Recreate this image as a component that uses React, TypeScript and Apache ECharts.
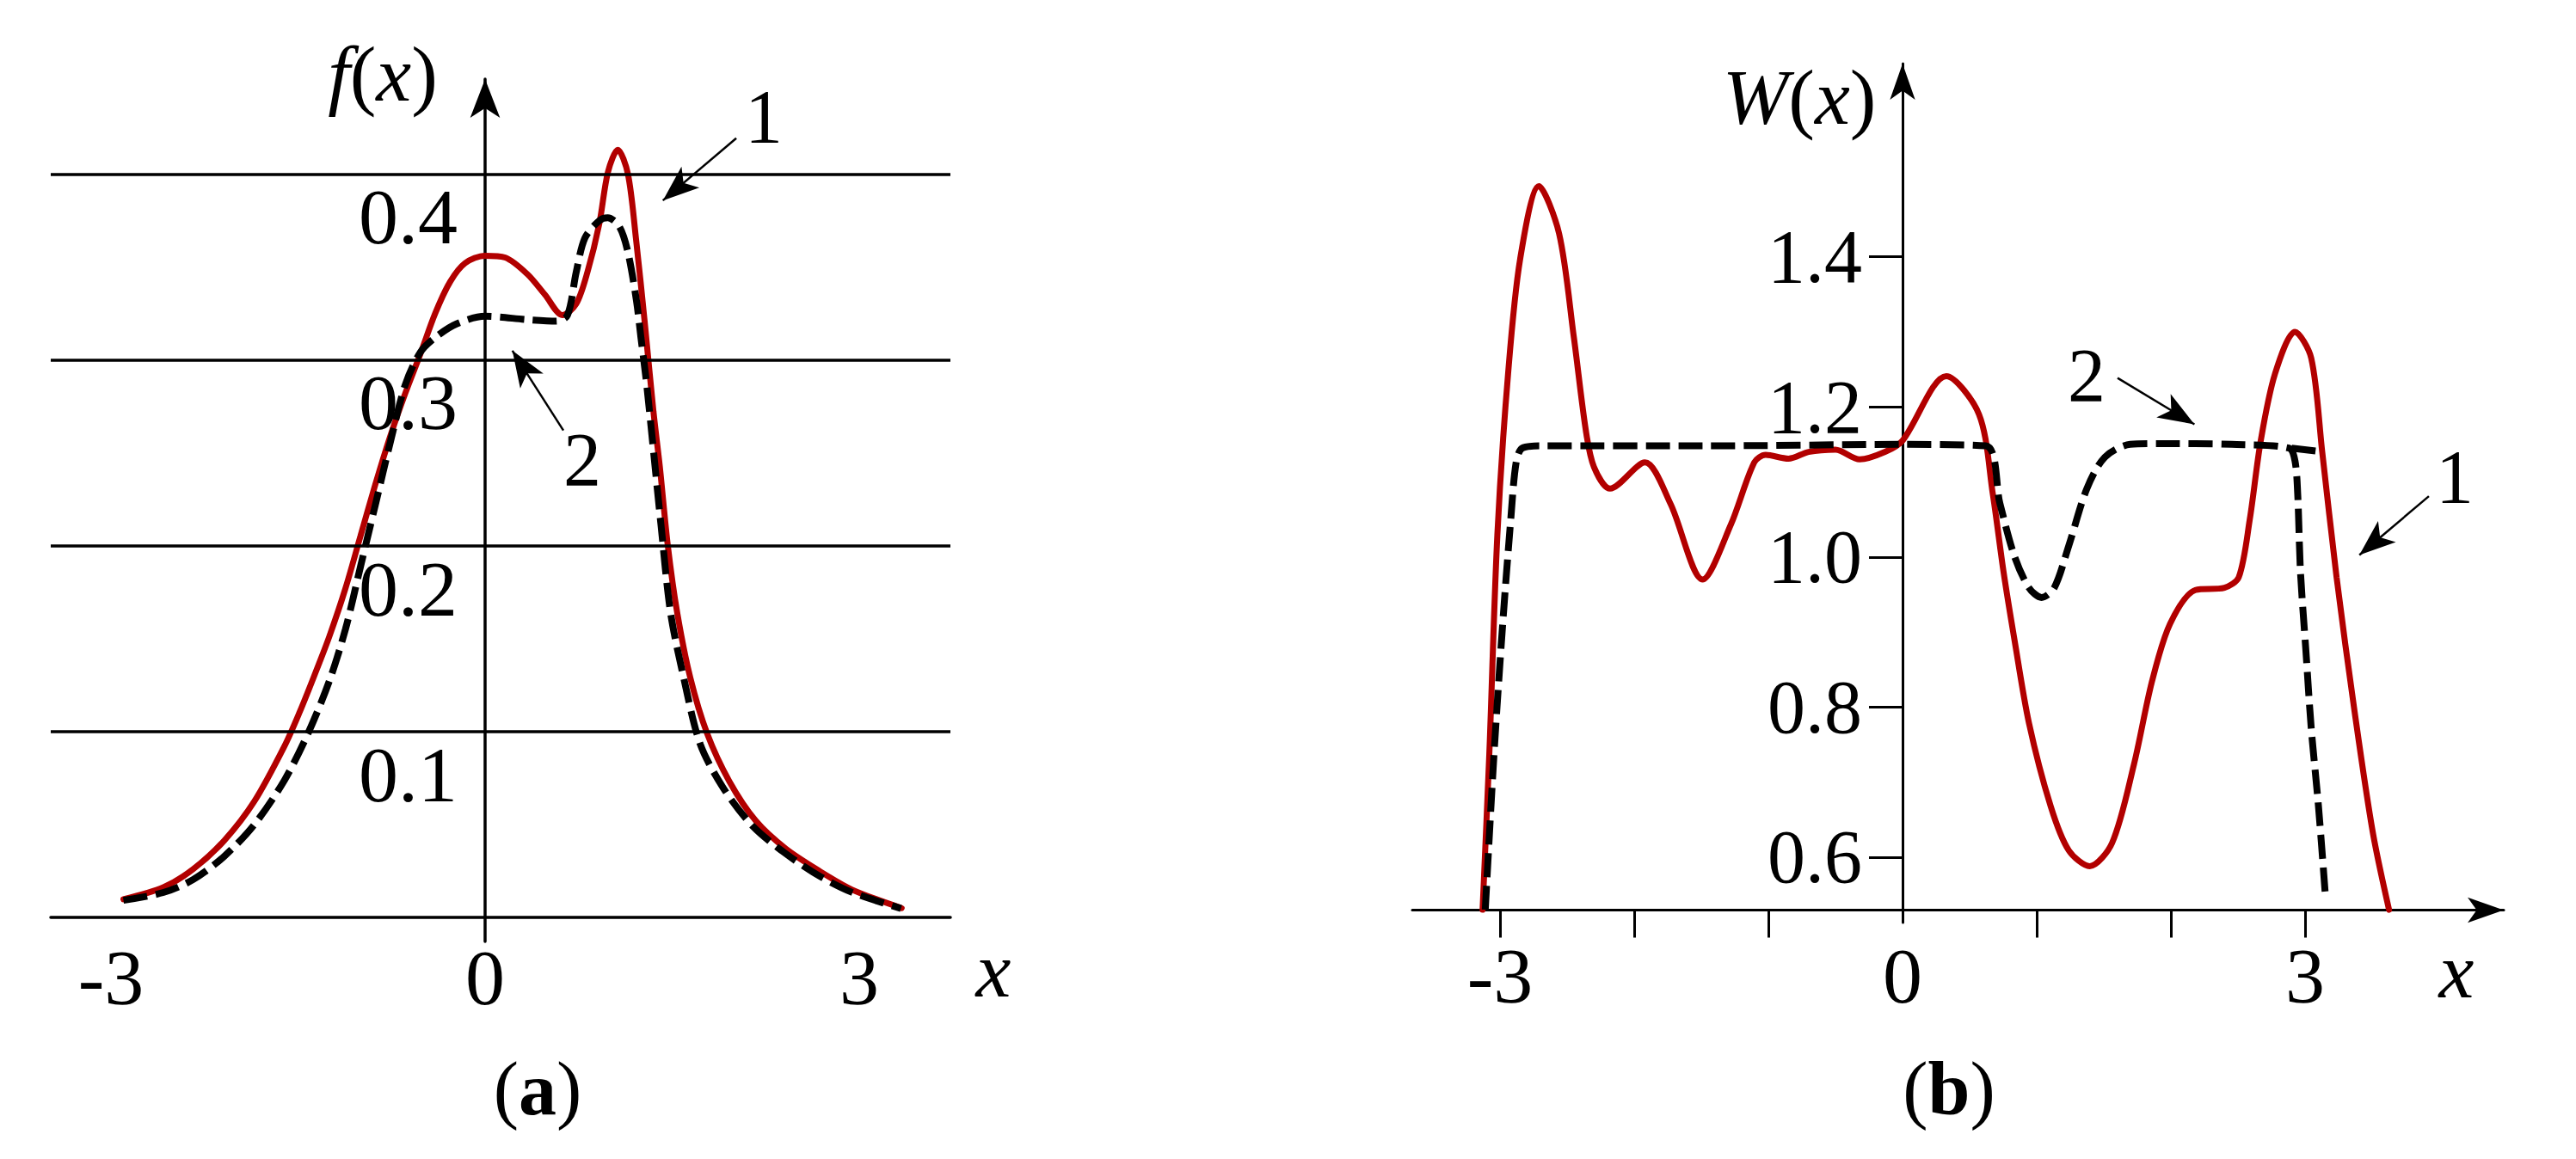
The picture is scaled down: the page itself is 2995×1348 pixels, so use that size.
import React, { useEffect, useRef } from 'react';
import * as echarts from 'echarts';

const FONT = '"Liberation Serif", "Times New Roman", serif';
const RED = '#b20000';
const BLACK = '#000000';

// ---------- panel (a): f(x) ----------
const fLabelTicksX = [-3, 0, 3];
const fGridValues = [0.1, 0.2, 0.3, 0.4];
const fRed: number[][] = [
  [-2.9, 0.0098], [-2.58, 0.0162], [-2.34, 0.026], [-2.09, 0.0415], [-1.85, 0.0625],
  [-1.61, 0.092], [-1.49, 0.11], [-1.37, 0.13], [-1.25, 0.151], [-1.12, 0.177],
  [-1.0, 0.205], [-0.88, 0.233], [-0.76, 0.259], [-0.64, 0.282], [-0.52, 0.303],
  [-0.4, 0.325], [-0.28, 0.342], [-0.16, 0.352], [0, 0.356], [0.16, 0.355],
  [0.34, 0.346], [0.48, 0.335], [0.62, 0.324], [0.73, 0.33], [0.82, 0.347],
  [0.915, 0.373], [0.985, 0.401], [1.064, 0.413], [1.145, 0.4], [1.21, 0.365],
  [1.28, 0.32], [1.35, 0.272], [1.4, 0.243], [1.465, 0.2], [1.54, 0.164],
  [1.645, 0.129], [1.78, 0.099], [1.96, 0.073], [2.17, 0.052], [2.41, 0.037],
  [2.68, 0.025], [2.94, 0.015], [3.34, 0.005],
];
const fDash: number[][] = [
  [-2.9, 0.0092], [-2.58, 0.0134], [-2.34, 0.0204], [-2.09, 0.033], [-1.85, 0.05],
  [-1.61, 0.0737], [-1.42, 0.099], [-1.25, 0.127], [-1.12, 0.155], [-1.0, 0.1885],
  [-0.88, 0.222], [-0.76, 0.2557], [-0.64, 0.2866], [-0.52, 0.304], [-0.4, 0.312],
  [-0.23, 0.3193], [0, 0.3234], [0.34, 0.3216], [0.57, 0.3208], [0.66, 0.3239],
  [0.73, 0.347], [0.8, 0.3655], [0.915, 0.3748], [0.984, 0.3764], [1.076, 0.3717],
  [1.145, 0.3579], [1.214, 0.3316], [1.25, 0.3116], [1.29, 0.29], [1.33, 0.2644],
  [1.41, 0.2113], [1.487, 0.164], [1.593, 0.1287], [1.725, 0.0932], [1.909, 0.0697],
  [2.147, 0.049], [2.411, 0.0343], [2.675, 0.0225], [2.939, 0.0136], [3.335, 0.0048],
];
// annotation arrows (data coords): [from, to]
const fArrows: number[][][] = [
  [[2.014, 0.4192], [1.4255, 0.3857]],
  [[0.6276, 0.262], [0.2186, 0.3049]],
];

// ---------- panel (b): W(x) ----------
const wLabelTicksX = [-3, 0, 3];
const wTickMarksX = [-3, -2, -1, 1, 2, 3];
const wTicksY = [0.6, 0.8, 1.0, 1.2, 1.4];
const wRed: number[][] = [
  [-3.13, 0.53], [-3.08, 0.737], [-3.02, 1.029], [-2.94, 1.244], [-2.85, 1.397],
  [-2.71, 1.494], [-2.56, 1.431], [-2.45, 1.293], [-2.36, 1.168], [-2.3, 1.12],
  [-2.18, 1.091], [-1.92, 1.126], [-1.73, 1.071], [-1.49, 0.97], [-1.28, 1.043],
  [-1.105, 1.126], [-1.02, 1.136], [-0.85, 1.131], [-0.7, 1.14], [-0.5, 1.143],
  [-0.32, 1.13], [-0.13, 1.14], [0, 1.155], [0.326, 1.241], [0.57, 1.19],
  [0.672, 1.085], [0.753, 0.98], [0.834, 0.89], [0.942, 0.779], [1.104, 0.668],
  [1.239, 0.609], [1.395, 0.588], [1.562, 0.619], [1.724, 0.723], [1.859, 0.834],
  [1.994, 0.911], [2.183, 0.956], [2.399, 0.959], [2.506, 0.973], [2.588, 1.05],
  [2.669, 1.154], [2.776, 1.244], [2.925, 1.3], [3.046, 1.265], [3.128, 1.14],
  [3.235, 0.973], [3.37, 0.793], [3.505, 0.633], [3.626, 0.53],
];
const wDash: number[][] = [
  [-3.11, 0.53], [-3.045, 0.737], [-2.98, 0.911], [-2.92, 1.05], [-2.88, 1.126],
  [-2.835, 1.145], [-2.7, 1.148], [-1.5, 1.148], [0, 1.15], [0.62, 1.148],
  [0.726, 1.071], [0.834, 1.001], [0.942, 0.959], [1.036, 0.946], [1.131, 0.959],
  [1.239, 1.015], [1.374, 1.091], [1.508, 1.133], [1.697, 1.15], [1.91, 1.151],
  [2.453, 1.15], [2.88, 1.145], [2.925, 1.128], [2.945, 1.085], [2.966, 0.98],
  [3.006, 0.876], [3.046, 0.772], [3.1, 0.668], [3.154, 0.543],
];
const wDashStub: number[][] = [[2.9, 1.145], [3.13, 1.14]];
const wArrows: number[][][] = [
  [[1.6026, 1.2385], [2.1756, 1.1767]],
  [[3.923, 1.0809], [3.405, 1.0027]],
];

const labelStyle = { fontFamily: FONT, color: BLACK, fontSize: 90 };

function arrowMarkLine(arrows: number[][][]) {
  return {
    silent: true,
    symbol: ['none', 'arrow'],
    symbolSize: [24, 42],
    label: { show: false },
    lineStyle: { type: 'solid', color: BLACK, width: 2.5 },
    emphasis: { disabled: true },
    data: arrows.map((a) => [{ coord: a[0] }, { coord: a[1] }]),
  };
}

function curve(name: string, xi: number, data: number[][], dashed: boolean, z: number) {
  return {
    name,
    type: 'line',
    xAxisIndex: xi,
    yAxisIndex: xi,
    data,
    showSymbol: false,
    symbol: 'none',
    smooth: 0.3,
    z,
    silent: true,
    lineStyle: dashed
      ? { color: BLACK, width: 8, type: [28, 10], cap: 'butt' }
      : { color: RED, width: 7, cap: 'round' },
  };
}

function text(x: number, y: number, t: string, extra: any = {}) {
  return {
    type: 'text',
    x,
    y,
    style: {
      text: t,
      fontFamily: FONT,
      fontSize: 90,
      fill: BLACK,
      align: 'center',
      verticalAlign: 'middle',
      ...extra,
    },
  };
}

export default function App() {
  const ref = useRef<HTMLDivElement>(null);
  useEffect(() => {
    document.body.style.margin = '0';
    if (!ref.current) return;
    const chart = echarts.init(ref.current, null, { renderer: 'svg' });
    const italicRich = { i: { fontStyle: 'italic', fontFamily: FONT, fontSize: 92, fill: BLACK } };
    const option: any = {
      animation: false,
      backgroundColor: '#ffffff',
      grid: [
        { left: 59, top: 92, width: 1046, height: 1003, containLabel: false, outerBoundsMode: 'none' },
        { left: 1642, top: 74, width: 1269, height: 999, containLabel: false, outerBoundsMode: 'none' },
      ],
      xAxis: [
        {
          type: 'value', gridIndex: 0, min: -3.483, max: 3.731,
          position: 'bottom', offset: -28,
          axisLine: { onZero: false, lineStyle: { color: BLACK, width: 3.5 } },
          axisTick: { show: false },
          splitLine: { show: false },
          axisLabel: { ...labelStyle, fontSize: 92, margin: 24, customValues: fLabelTicksX },
        },
        {
          type: 'value', gridIndex: 1, min: -3.654, max: 4.481,
          position: 'bottom', offset: -14.5,
          axisLine: {
            onZero: false, symbol: ['none', 'arrow'], symbolSize: [22, 42],
            lineStyle: { color: BLACK, width: 3 },
          },
          axisTick: { show: true, customValues: wTickMarksX, length: 32, lineStyle: { color: BLACK, width: 3 } },
          splitLine: { show: false },
          axisLabel: { ...labelStyle, fontSize: 92, margin: 30, customValues: wLabelTicksX },
        },
      ],
      yAxis: [
        {
          type: 'value', gridIndex: 0, min: -0.01295, max: 0.451,
          position: 'left', offset: -505,
          axisLine: {
            onZero: false, symbol: ['none', 'arrow'], symbolSize: [26, 45],
            lineStyle: { color: BLACK, width: 3.5 },
          },
          axisTick: { show: false },
          splitLine: { show: false },
          axisLabel: {
            ...labelStyle, fontSize: 92, margin: 32, customValues: fGridValues,
            verticalAlign: 'top', lineHeight: 100,
            formatter: (v: number) => v.toFixed(1),
          },
        },
        {
          type: 'value', gridIndex: 1, min: 0.5129, max: 1.6573,
          position: 'left', offset: -570,
          axisLine: {
            onZero: false, symbol: ['none', 'arrow'], symbolSize: [22, 42],
            lineStyle: { color: BLACK, width: 3 },
          },
          axisTick: { show: true, customValues: wTicksY, length: 39, lineStyle: { color: BLACK, width: 3 } },
          splitLine: { show: false },
          axisLabel: {
            ...labelStyle, fontSize: 88, margin: 47, customValues: wTicksY,
            padding: [0, 0, 16, 0],
            formatter: (v: number) => v.toFixed(1),
          },
        },
      ],
      series: [
        {
          name: 'gridA', type: 'line', xAxisIndex: 0, yAxisIndex: 0, data: [], z: 1, silent: true,
          markLine: {
            silent: true, symbol: 'none', label: { show: false },
            lineStyle: { type: 'solid', color: BLACK, width: 3.5 },
            emphasis: { disabled: true },
            data: fGridValues.map((v) => ({ yAxis: v })),
          },
        },
        {
          name: 'arrowsA', type: 'line', xAxisIndex: 0, yAxisIndex: 0, data: [], z: 5, silent: true,
          markLine: arrowMarkLine(fArrows),
        },
        curve('f1', 0, fRed, false, 3),
        curve('f2', 0, fDash, true, 4),
        {
          name: 'arrowsB', type: 'line', xAxisIndex: 1, yAxisIndex: 1, data: [], z: 5, silent: true,
          markLine: arrowMarkLine(wArrows),
        },
        curve('W1', 1, wRed, false, 3),
        curve('W2', 1, wDash, true, 4),
        { ...curve('W2stub', 1, wDashStub, true, 4), smooth: false },
      ],
      graphic: [
        text(445, 86, '{i|f}({i|x})', { fontSize: 92, rich: italicRich }),
        text(2092, 113, '{i|W}({i|x})', { fontSize: 92, rich: italicRich }),
        text(1155, 1128, 'x', { fontStyle: 'italic', fontSize: 92 }),
        text(2856, 1129, 'x', { fontStyle: 'italic', fontSize: 92 }),
        text(888, 135, '1', { fontSize: 88 }),
        text(677, 534, '2', { fontSize: 88 }),
        text(2426, 436, '2', { fontSize: 88 }),
        text(2854, 554, '1', { fontSize: 88 }),
        text(625, 1266, '({b|a})', { fontSize: 88, rich: { b: { fontWeight: 'bold', fontFamily: FONT, fontSize: 88, fill: BLACK } } }),
        text(2266, 1266, '({b|b})', { fontSize: 88, rich: { b: { fontWeight: 'bold', fontFamily: FONT, fontSize: 88, fill: BLACK } } }),
      ],
    };
    chart.setOption(option);
    return () => chart.dispose();
  }, []);
  return (
    <div
      ref={ref}
      style={{ position: 'fixed', left: 0, top: 0, width: 2995, height: 1348, background: '#fff' }}
    />
  );
}
